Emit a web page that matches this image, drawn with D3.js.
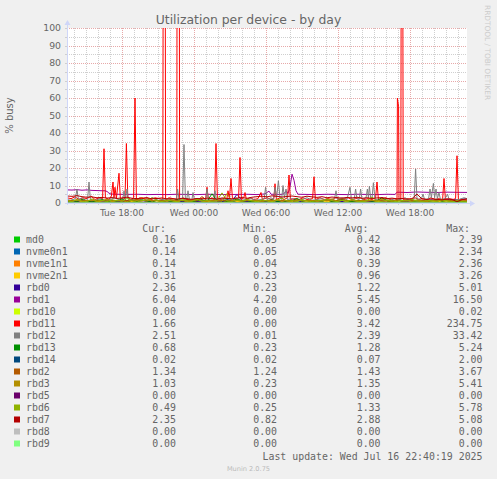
<!DOCTYPE html>
<html><head><meta charset="utf-8">
<script src="https://cdn.jsdelivr.net/npm/d3@7"></script>
<style>
html,body{margin:0;padding:0;background:#F0F0F0;}
svg{display:block;}
</style></head>
<body>
<script>
// ---------- DATA ----------
const title = "Utilization per device - by day";
const yLabel = "% busy";
const yTicks = [0,10,20,30,40,50,60,70,80,90,100];
const startTime = new Date(2025,6,15,13,25);   // left edge of graph
const endTime = new Date(2025,6,16,22,45);     // right edge of graph
const spanMinutes = 2000;
const lastUpdate = "Last update: Wed Jul 16 22:40:19 2025";

const names = ["md0","nvme0n1","nvme1n1","nvme2n1","rbd0","rbd1","rbd10","rbd11","rbd12","rbd13","rbd14","rbd2","rbd3","rbd5","rbd6","rbd7","rbd8","rbd9"];
const colors = ["#00CC00","#0066B3","#FF8000","#FFCC00","#330099","#990099","#CCFF00","#FF0000","#808080","#008F00","#00487D","#B35A00","#B38F00","#6B006B","#8FB300","#B30000","#BEBEBE","#80FF80"];
const curVals = [0.16,0.14,0.14,0.31,2.36,6.04,0.00,1.66,2.51,0.68,0.02,1.34,1.03,0.00,0.49,2.35,0.00,0.00];
const minVals = [0.05,0.05,0.04,0.23,0.23,4.20,0.00,0.00,0.01,0.23,0.02,1.24,0.23,0.00,0.25,0.82,0.00,0.00];
const avgVals = [0.42,0.38,0.39,0.96,1.22,5.45,0.00,3.42,2.39,1.28,0.07,1.43,1.35,0.00,1.33,2.88,0.00,0.00];
const maxVals = [2.39,2.34,2.36,3.26,5.01,16.50,0.02,234.75,33.42,5.24,2.00,3.67,5.41,0.00,5.78,5.08,0.00,0.00];

// regularly sampled series (evenly spaced across the graph span)
const md0 = [0.3,0.5,0.2,0.8,0.4,0.3,1.2,0.5,0.2,0.4, 0.6,0.3,2.39,0.4,0.3,0.2,0.5,0.7,0.3,0.2, 0.4,0.3,0.9,0.5,0.2,0.3,0.4,0.6,0.3,0.05, 0.5,1.4,0.4,0.3,0.2,0.3,0.5,0.4,0.3,0.8, 0.16];
const nvme0n1 = [0.3,0.4,0.2,0.7,0.4,0.3,1.1,0.5,0.2,0.4, 0.5,0.3,2.34,0.4,0.3,0.2,0.5,0.6,0.3,0.2, 0.4,0.3,0.8,0.5,0.2,0.3,0.4,0.6,0.3,0.05, 0.5,1.3,0.4,0.3,0.2,0.3,0.4,0.4,0.3,0.7, 0.14];
const nvme1n1 = [0.3,0.5,0.2,0.7,0.4,0.3,1.2,0.4,0.2,0.4, 0.6,0.3,2.36,0.4,0.3,0.2,0.5,0.6,0.3,0.2, 0.4,0.3,0.9,0.4,0.2,0.3,0.4,0.6,0.3,0.04, 0.5,1.3,0.4,0.3,0.2,0.3,0.5,0.4,0.3,0.8, 0.14];
const nvme2n1 = [0.9,1.2,0.7,1.0,1.5,0.8,1.1,0.6,1.3,0.9, 1.0,0.7,1.4,0.9,1.1,3.26,0.8,1.0,1.2,0.7, 0.9,1.3,0.8,1.0,0.6,1.2,0.9,1.1,0.7,1.4, 0.9,1.0,0.8,1.6,0.9,1.1,0.7,1.0,1.2,0.8, 1.0,0.9,1.3,0.7,1.1,0.8,2.1,0.9,1.0,0.7, 1.2,0.9,1.0,0.8,1.4,0.9,1.1,0.7,1.0,0.8, 1.3,0.9,0.8,1.1,0.7,1.0,1.5,0.8,0.9,1.1, 0.7,1.0,0.9,1.2,0.8,1.0,0.6,0.9,0.23,0.5, 0.31];
const rbd0 = [1.0,1.3,0.8,1.5,1.1,0.7,1.4,1.2,0.9,1.6, 1.1,0.6,1.3,2.0,1.0,1.4,0.8,1.2,1.5,0.9, 1.3,1.0,1.7,0.7,1.2,1.4,0.9,1.1,1.6,1.0, 1.2,0.8,1.5,1.1,5.01,1.3,0.9,1.2,1.4,1.0, 1.1,1.6,0.8,1.3,1.0,1.5,0.23,1.2,1.4,0.9, 1.3,1.1,1.8,1.0,1.2,0.8,1.5,1.3,1.0,1.4, 1.2,0.9,1.6,1.1,1.3,1.0,1.7,1.2,0.9,1.5, 1.3,1.1,1.4,1.8,1.2,1.6,1.9,2.1,1.8,2.2, 2.36];
const rbd10 = [0,0,0,0.02,0,0,0,0,0,0,0];
const rbd13 = [1.0,1.6,0.8,2.1,1.2,0.6,1.4,1.9,0.9,1.3, 1.1,2.4,0.7,1.5,1.0,1.8,1.2,0.5,1.6,1.1, 1.4,0.9,2.0,1.2,1.5,0.8,1.3,1.7,1.0,5.24, 1.2,1.5,0.9,1.3,2.2,1.0,1.4,0.7,1.6,1.1, 1.3,1.8,1.0,0.23,1.4,1.2,2.6,1.0,1.5,0.8, 1.3,1.1,1.7,0.9,1.4,2.0,1.2,0.8,1.5,1.1, 1.6,1.0,1.3,3.1,1.2,0.9,1.4,1.1,1.7,1.0, 1.2,1.5,0.8,1.3,1.9,1.0,1.4,0.7,1.1,0.9, 0.68];
const rbd14 = [0.05,0.03,0.05,0.04,0.02,0.05,0.03,0.04,0.05,0.02, 0.03,0.05,0.04,0.02,0.05,0.03,2.0,0.04,0.02,0.05, 0.03,0.04,0.05,0.02,0.03,0.05,0.04,0.02,0.03,0.05, 0.04,0.02,0.03,0.05,0.04,0.02,0.03,0.05,0.04,0.02, 0.02];
const rbd2 = [1.4,1.5,1.3,1.6,1.4,1.3,1.5,1.4,1.7,1.3, 1.4,1.5,1.3,1.4,2.1,1.4,1.3,1.5,1.4,1.3, 1.6,1.4,1.3,1.5,1.4,1.3,1.4,3.67,1.4,1.3, 1.5,1.4,1.3,1.4,1.6,1.3,1.4,1.5,1.3,1.4, 1.4,1.3,1.5,1.4,1.24,1.4,1.6,1.3,1.4,1.5, 1.3,1.4,1.5,1.3,1.4,2.4,1.4,1.3,1.5,1.4, 1.3,1.4,1.5,1.3,1.4,1.3,1.6,1.4,1.3,1.5, 1.4,1.3,1.4,1.5,1.3,1.4,1.3,1.5,1.4,1.3, 1.34];
const rbd3 = [1.5,1.1,2.0,0.9,1.4,1.7,0.8,1.3,2.2,1.0, 1.6,1.2,0.7,1.8,1.4,1.0,2.5,1.1,1.5,0.9, 1.3,1.9,1.0,1.6,0.6,1.4,2.1,1.2,0.8,1.7, 1.3,1.0,5.41,1.2,1.5,0.9,1.8,1.1,1.4,0.7, 1.6,1.2,2.0,1.0,1.5,0.23,1.3,1.8,1.1,1.4, 0.9,1.7,1.2,2.4,1.0,1.5,1.1,1.8,0.8,1.4, 1.2,1.6,1.0,2.2,1.3,0.9,1.7,1.1,1.5,1.0, 1.8,1.2,0.8,1.4,1.1,1.9,1.3,0.9,1.6,1.2, 1.03];
const rbd5 = [0,0];
const rbd6 = [1.2,0.8,1.9,1.1,0.6,2.4,1.0,1.5,0.7,1.8, 1.3,0.9,2.6,1.2,0.5,1.6,1.0,3.1,1.4,0.8, 1.7,1.1,0.6,1.9,1.3,0.9,2.2,1.0,1.5,0.7, 1.4,5.78,1.2,0.9,1.6,1.1,2.0,1.3,0.8,1.7, 1.2,0.6,1.5,2.8,1.0,1.4,0.9,1.8,1.2,0.7, 1.6,1.1,2.3,1.3,0.8,1.5,1.0,1.9,1.2,0.6, 1.4,3.4,1.1,0.9,1.7,1.2,0.8,1.5,1.0,2.1, 1.3,0.7,1.6,1.1,0.9,1.8,1.2,0.6,1.4,0.8, 0.49];
const rbd7 = [4.0,3.8,4.2,3.6,3.3,3.5,3.0,3.2,2.8,3.1, 2.6,2.9,3.3,2.7,2.5,2.8,3.0,2.4,2.6,2.9, 2.3,2.5,2.2,2.7,2.4,2.1,2.6,2.3,2.8,2.5, 2.2,2.9,2.6,2.4,2.8,3.1,2.7,3.3,3.6,3.9, 3.5,4.1,3.8,3.4,3.7,4.0,3.6,3.3,3.9,3.5, 3.2,3.6,3.0,3.4,3.1,2.8,3.2,2.9,3.3,2.7, 3.0,2.6,2.9,3.1,2.5,2.8,2.4,2.6,2.2,2.5, 5.08,2.3,2.0,2.4,2.1,1.8,2.3,2.0,0.82,1.9, 2.35];
const rbd8 = [0,0];
const rbd9 = [0,0];

// irregular series: [minutes after graph start, value]
const rbd1 = [[0,7.5],[25,7.4],[50,7.6],[75,7.3],[100,7.5],[125,7.2],[150,7.1],[175,7.0],[190,7.0],[200,6.6],[210,5.6],[220,5.1],[250,5.0],[300,4.9],[350,5.0],[400,4.8],[450,4.9],[500,4.8],[550,5.0],[600,4.9],[650,4.8],[700,5.0],[750,4.9],[800,4.8],[850,4.9],[900,5.0],[950,4.8],[990,5.2],[1010,6.8],[1020,5.0],[1070,4.9],[1085,5.3],[1095,7.0],[1105,5.5],[1115,9],[1125,16.5],[1135,13],[1145,7],[1155,5.0],[1200,4.9],[1250,4.8],[1300,5.0],[1350,4.9],[1400,4.8],[1450,5.0],[1500,4.9],[1550,4.8],[1600,5.0],[1640,4.9],[1650,6.2],[1700,6.0],[1750,6.3],[1800,6.1],[1850,6.0],[1900,6.2],[1950,6.1],[2000,6.04]];
const rbd11 = [[0,3],[20,2.5],[40,3.5],[60,2],[80,3],[100,2.5],[120,4],[140,2],[160,3],[178,2.5],[185,31],[192,3],[210,2],[222,4],[230,12],[235,3],[240,9],[247,2.5],[260,17],[267,2],[280,3],[290,2.5],[297,34],[304,3],[320,2],[333,3],[340,60],[347,2],[365,3],[380,2.5],[400,3],[420,2],[440,3],[460,2.5],[479,2],[481,150],[491,150],[493,2],[510,3],[530,2.5],[549,2],[551,234.75],[561,200],[563,2],[580,3],[600,2],[620,1.5],[640,2.5],[660,2],[680,3],[693,2],[700,9],[707,2],[725,3],[738,2],[745,34],[752,2.5],[770,2],[790,3],[799,2],[805,7],[812,2.5],[820,14],[827,3],[845,2],[858,3],[865,26],[872,2],[884,3],[890,6],[897,2],[915,3],[935,2],[955,2.5],[970,6],[977,2],[1000,3],[1020,2],[1034,2.5],[1040,11],[1047,2],[1065,3],[1085,2],[1103,3],[1110,16],[1117,2],[1140,2.5],[1160,2],[1180,3],[1200,2],[1228,2.5],[1235,15],[1242,2],[1265,3],[1285,2],[1305,2.5],[1325,2],[1345,3],[1365,2],[1385,2.5],[1405,3],[1425,2],[1445,2.5],[1465,3],[1485,2],[1505,2.5],[1525,2],[1543,3],[1550,12],[1557,2],[1575,2.5],[1595,3],[1615,2],[1635,2.5],[1650,2],[1652,60],[1658,55],[1660,2],[1669,2],[1671,140],[1679,130],[1681,2],[1700,2.5],[1720,2],[1740,3],[1760,2],[1780,2.5],[1800,2],[1820,3],[1840,2],[1860,2.5],[1878,2],[1885,14],[1892,2],[1910,2.5],[1930,2],[1943,2.5],[1950,27],[1957,2],[1975,2],[2000,1.66]];
const rbd12 = [[0,2],[20,1.5],[42,2.5],[50,8],[57,2],[75,3],[95,1.5],[103,2],[110,12],[117,2],[140,1.5],[165,2.5],[190,1.5],[215,2],[240,3],[265,1.5],[279,2],[285,7],[292,2],[300,8],[307,2],[330,1.5],[355,2.5],[380,1.5],[405,2],[430,3],[455,1.5],[480,2],[505,2.5],[530,1.5],[546,2],[553,8],[560,2],[578,2.5],[585,33.42],[592,2],[599,2.5],[605,7],[612,2],[624,1.5],[630,6],[637,2],[660,2.5],[685,1.5],[694,2],[700,8],[707,2],[733,1.5],[740,7],[747,2],[770,2.5],[795,1.5],[820,2],[845,3],[870,1.5],[895,2],[920,2.5],[945,1.5],[970,2],[986,2.5],[993,9],[1000,2],[1020,3],[1033,2],[1040,9],[1048,3],[1057,12.7],[1065,3],[1073,2],[1080,10],[1087,3],[1095,8],[1102,2],[1125,2.5],[1150,1.5],[1175,2],[1200,3],[1225,1.5],[1250,2],[1275,2.5],[1300,1.5],[1325,2],[1338,2.5],[1345,7],[1352,2],[1375,3],[1400,2],[1415,9],[1422,2.5],[1436,2],[1443,8],[1450,2.5],[1461,2],[1468,8],[1475,2],[1495,3],[1502,8],[1507,3],[1512,9.6],[1518,3],[1525,2.5],[1532,11.6],[1540,2],[1565,1.5],[1590,2],[1615,2.5],[1640,1.5],[1665,2],[1690,3],[1715,1.5],[1736,2.5],[1743,19.5],[1750,2],[1772,2.5],[1780,5],[1788,2],[1808,2.5],[1815,8],[1822,3],[1832,11.2],[1838,3],[1845,8],[1852,2.5],[1860,6],[1867,2],[1890,2.5],[1903,5],[1910,2],[1935,1.5],[1960,2],[1985,3],[2000,2.51]];

const seriesData = {md0,nvme0n1,nvme1n1,nvme2n1,rbd0,rbd1,rbd10,rbd11,rbd12,rbd13,rbd14,rbd2,rbd3,rbd5,rbd6,rbd7,rbd8,rbd9};

// ---------- DRAW ----------
const W = 497, H = 479;
const L = 67, R = 467, T = 28, B = 203;
const FONT = "'DejaVu Sans', sans-serif";
const MONO = "'DejaVu Sans Mono', monospace";
const FC = "#666666";
const GRID = "#cfcfcf", MGRID = "#e7a9a9";

const svg = d3.select("body").append("svg").attr("width", W).attr("height", H);
svg.append("rect").attr("width", W).attr("height", H).attr("fill", "#F0F0F0");
svg.append("rect").attr("x", L).attr("y", T).attr("width", R - L).attr("height", B - T).attr("fill", "#FFFFFF");

const x = d3.scaleTime().domain([startTime, endTime]).range([L, R]);
const y = d3.scaleLinear().domain([0, 100]).range([B, T]);

// grid
const g = svg.append("g");
const minorX = d3.timeHour.every(1).range(startTime, endTime);
const majorX = d3.timeHour.every(6).range(startTime, endTime);
g.selectAll(".vmin").data(minorX).join("line")
  .attr("x1", d => Math.round(x(d)) + 0.5).attr("x2", d => Math.round(x(d)) + 0.5)
  .attr("y1", T).attr("y2", B)
  .attr("stroke", GRID).attr("stroke-dasharray", "1,1");
const minorY = d3.range(5, 100, 10);
g.selectAll(".hmin").data(minorY).join("line")
  .attr("x1", L).attr("x2", R)
  .attr("y1", d => Math.round(y(d)) + 0.5).attr("y2", d => Math.round(y(d)) + 0.5)
  .attr("stroke", GRID).attr("stroke-dasharray", "1,1");
g.selectAll(".vmaj").data(majorX).join("line")
  .attr("x1", d => Math.round(x(d)) + 0.5).attr("x2", d => Math.round(x(d)) + 0.5)
  .attr("y1", T).attr("y2", B)
  .attr("stroke", MGRID).attr("stroke-dasharray", "1,1");
g.selectAll(".hmaj").data(yTicks.filter(v => v > 0)).join("line")
  .attr("x1", L).attr("x2", R)
  .attr("y1", d => Math.round(y(d)) + 0.5).attr("y2", d => Math.round(y(d)) + 0.5)
  .attr("stroke", MGRID).attr("stroke-dasharray", "1,1");

// ticks on axes
g.selectAll(".yt").data(yTicks.concat(minorY)).join("line")
  .attr("x1", L - 2).attr("x2", L)
  .attr("y1", d => Math.round(y(d)) + 0.5).attr("y2", d => Math.round(y(d)) + 0.5)
  .attr("stroke", GRID);
g.selectAll(".xt").data(minorX).join("line")
  .attr("x1", d => Math.round(x(d)) + 0.5).attr("x2", d => Math.round(x(d)) + 0.5)
  .attr("y1", B).attr("y2", B + 2)
  .attr("stroke", GRID);

// series lines
svg.append("clipPath").attr("id", "clip").append("rect")
  .attr("x", L).attr("y", T).attr("width", R - L + 1).attr("height", B - T + 1);
const line = d3.line().x(d => x(d[0])).y(d => y(d[1]));
const toPoints = arr => {
  if (Array.isArray(arr[0])) return arr.map(p => [d3.timeMinute.offset(startTime, p[0]), p[1]]);
  const step = spanMinutes / (arr.length - 1);
  return arr.map((v, i) => [new Date(startTime.getTime() + i * step * 60000), v]);
};
const lines = svg.append("g").attr("clip-path", "url(#clip)");
names.forEach((n, i) => {
  lines.append("path").attr("d", line(toPoints(seriesData[n])))
    .attr("fill", "none").attr("stroke", colors[i]).attr("stroke-width", 1)
    .attr("stroke-linejoin", "round");
});

// axes
svg.append("line").attr("x1", L + 0.5).attr("x2", L + 0.5).attr("y1", B + 2).attr("y2", T - 4)
  .attr("stroke", "#CFD6F8");
svg.append("line").attr("x1", L - 2).attr("x2", R + 4).attr("y1", B + 0.5).attr("y2", B + 0.5)
  .attr("stroke", "#CFD6F8");
svg.append("path").attr("d", `M${L - 2.5},${T - 3} L${L + 3.5},${T - 3} L${L + 0.5},${T - 8} Z`).attr("fill", "#CFD6F8");
svg.append("path").attr("d", `M${R + 3},${B - 2.5} L${R + 3},${B + 3.5} L${R + 8},${B + 0.5} Z`).attr("fill", "#CFD6F8");

// y tick labels
svg.append("g").selectAll("text").data(yTicks).join("text")
  .attr("x", 61).attr("y", d => y(d)).attr("dy", "0.36em")
  .attr("text-anchor", "end").attr("font-family", FONT).attr("font-size", 9.3)
  .attr("fill", FC).text(d => d);
// x tick labels
const fmt = d3.timeFormat("%a %H:%M");
svg.append("g").selectAll("text").data(majorX).join("text")
  .attr("x", d => x(d)).attr("y", 216)
  .attr("text-anchor", "middle").attr("font-family", FONT).attr("font-size", 9)
  .attr("fill", FC).text(d => fmt(d));

// title
svg.append("text").attr("x", W / 2).attr("y", 24).attr("text-anchor", "middle")
  .attr("font-family", FONT).attr("font-size", 12.4).attr("fill", FC).text(title);
// y label
svg.append("text").attr("transform", `translate(13,${(T + B) / 2}) rotate(-90)`)
  .attr("text-anchor", "middle").attr("font-family", FONT).attr("font-size", 10)
  .attr("fill", FC).text(yLabel);
// watermark
svg.append("text").attr("transform", "translate(485,5) rotate(90)")
  .attr("font-family", FONT).attr("font-size", 7.4).attr("fill", "#cccccc")
  .text("RRDTOOL / TOBI OETIKER");

// legend
const cols = [{h:"Cur:", hx:166, vx:176, v:curVals},{h:"Min:", hx:267, vx:277, v:minVals},{h:"Avg:", hx:368.5, vx:380.5, v:avgVals},{h:"Max:", hx:470, vx:482.5, v:maxVals}];
const lg = svg.append("g").attr("font-family", MONO).attr("font-size", 9.9).attr("fill", FC);
cols.forEach(c => {
  lg.append("text").attr("x", c.hx).attr("y", 231.5).attr("text-anchor", "end").text(c.h);
});
const f2 = d3.format(".2f");
names.forEach((n, i) => {
  const cy = 239.5 + 12 * i;
  lg.append("rect").attr("x", 14).attr("y", cy - 3).attr("width", 6).attr("height", 6).attr("fill", colors[i]);
  lg.append("text").attr("x", 26).attr("y", cy + 3.5).text(n);
  cols.forEach(c => {
    lg.append("text").attr("x", c.vx).attr("y", cy + 3.5).attr("text-anchor", "end").text(f2(c.v[i]));
  });
});
lg.append("text").attr("x", 482.5).attr("y", 459.5).attr("text-anchor", "end").text(lastUpdate);
svg.append("text").attr("x", W / 2).attr("y", 470.5).attr("text-anchor", "middle")
  .attr("font-family", FONT).attr("font-size", 6.6).attr("fill", "#bbbbbb").text("Munin 2.0.75");
</script>
</body></html>
